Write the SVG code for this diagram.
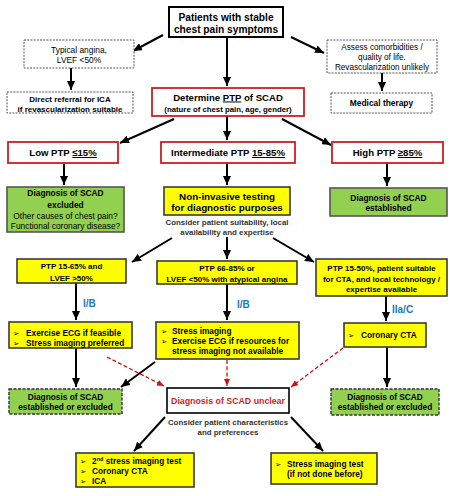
<svg xmlns="http://www.w3.org/2000/svg" width="450" height="496" viewBox="0 0 450 496">
<defs>
<marker id="ah" markerUnits="userSpaceOnUse" markerWidth="9" markerHeight="8" refX="9" refY="4" orient="auto">
<path d="M0,0 L9,4 L0,8 z" fill="#000"/>
</marker>
<marker id="rh" markerUnits="userSpaceOnUse" markerWidth="7" markerHeight="6" refX="7" refY="3" orient="auto">
<path d="M0,0 L7,3 L0,6 z" fill="#d01010"/>
</marker>
</defs>
<style>
text{font-family:"Liberation Sans",Arial,sans-serif;fill:#000}
.b{font-weight:bold}
.c{text-anchor:middle}
.bul{font-family:"DejaVu Sans",sans-serif}
.lbl{fill:#1a7ac8;font-weight:bold;font-size:10px}
.red{stroke:#cc1f1f;stroke-width:1.8;fill:#fff}
.dot{stroke:#555;stroke-width:1;stroke-dasharray:2,1.2;fill:#fff}
.yel{fill:#ffff00;stroke:#3a3a3a;stroke-width:1.6}
.grn{fill:#92d050;stroke:#555;stroke-width:1.6}
.grnd{fill:#92d050;stroke:#333;stroke-width:1.4;stroke-dasharray:3,1.5}
.arr{stroke:#000;stroke-width:2;marker-end:url(#ah)}
.rarr{stroke:#d01010;stroke-width:1.3;stroke-dasharray:4,2.2;marker-end:url(#rh)}
</style>
<g id="connectors">
<line class="arr" x1="163" y1="35" x2="133" y2="51"/>
<line class="arr" x1="291" y1="37" x2="324" y2="53"/>
<line class="arr" x1="227" y1="37" x2="227" y2="86"/>
<line class="arr" x1="71" y1="68" x2="71" y2="90"/>
<line class="arr" x1="382" y1="73" x2="382" y2="91"/>
<line class="arr" x1="174" y1="119" x2="120" y2="143"/>
<line class="arr" x1="227" y1="116" x2="227" y2="140"/>
<line class="arr" x1="282" y1="119" x2="331" y2="145"/>
<line class="arr" x1="64" y1="163" x2="64" y2="185"/>
<line class="arr" x1="227" y1="163" x2="227" y2="185"/>
<line class="arr" x1="387" y1="163" x2="387" y2="186"/>
<line class="arr" x1="172" y1="238" x2="132" y2="262"/>
<line class="arr" x1="227" y1="237" x2="227" y2="259"/>
<line class="arr" x1="273" y1="238" x2="314" y2="262"/>
<line class="arr" x1="76" y1="283" x2="76" y2="320"/>
<line class="arr" x1="227" y1="284" x2="227" y2="320"/>
<line class="arr" x1="386" y1="296" x2="386" y2="321"/>
<line class="arr" x1="76" y1="348" x2="76" y2="387"/>
<line class="arr" x1="155" y1="362" x2="121" y2="387"/>
<line class="arr" x1="387" y1="347" x2="387" y2="387"/>
<line class="arr" x1="165" y1="417" x2="134" y2="451"/>
<line class="arr" x1="291" y1="417" x2="323" y2="451"/>
<line class="rarr" x1="107" y1="357" x2="164" y2="386"/>
<line class="rarr" x1="227" y1="360" x2="227" y2="386"/>
<line class="rarr" x1="343" y1="348" x2="291" y2="387"/>
</g>
<g id="labels">
<text class="lbl" x="83" y="307">I/B</text>
<text class="lbl" x="237" y="308">I/B</text>
<text class="lbl" x="392" y="313">IIa/C</text>
</g>
<g id="n-start">
<rect x="169" y="7" width="114" height="30" fill="#fff" stroke="#000" stroke-width="2"/>
<text class="b c" x="226" y="20.5" font-size="10.2">Patients with stable</text>
<text class="b c" x="226" y="32.5" font-size="10.2">chest pain symptoms</text>
</g>
<g id="n-typical">
<rect class="dot" x="24" y="40" width="110" height="28"/>
<text class="c" x="79" y="53" font-size="8.4">Typical angina,</text>
<text class="c" x="79" y="63" font-size="8.4">LVEF  &lt;50%</text>
</g>
<g id="n-direct">
<rect class="dot" x="7" y="92" width="126" height="21"/>
<text class="b c" x="70" y="102" font-size="8">Direct referral for ICA</text>
<text class="b c" x="70" y="111.5" font-size="8">if revascularization suitable</text>
</g>
<g id="n-assess">
<rect class="dot" x="327" y="40" width="110" height="33"/>
<text class="c" x="382" y="50" font-size="8.2">Assess comorbidities /</text>
<text class="c" x="382" y="60" font-size="8.2">quality of life.</text>
<text class="c" x="382" y="70" font-size="8.2">Revascularization unlikely</text>
</g>
<g id="n-medical">
<rect class="dot" x="331" y="93" width="101" height="20"/>
<text class="b c" x="381.5" y="106" font-size="8.4">Medical therapy</text>
</g>
<g id="n-determine">
<rect class="red" x="152" y="88" width="152" height="28"/>
<text class="b c" x="228" y="100.5" font-size="9.6">Determine <tspan text-decoration="underline">PTP</tspan> of SCAD</text>
<text class="b c" x="228" y="111.5" font-size="7.8">(nature of chest pain, age, gender)</text>
</g>
<g id="n-low">
<rect class="red" x="8" y="142" width="110" height="21"/>
<text class="b c" x="63" y="156" font-size="9.6">Low PTP <tspan text-decoration="underline">≤15%</tspan></text>
</g>
<g id="n-intermediate">
<rect class="red" x="161" y="142" width="134" height="21"/>
<text class="b c" x="228" y="156" font-size="9.6">Intermediate PTP <tspan text-decoration="underline">15-85%</tspan></text>
</g>
<g id="n-high">
<rect class="red" x="332" y="142" width="111" height="21"/>
<text class="b c" x="387.5" y="156" font-size="9.6">High PTP <tspan text-decoration="underline">≥85%</tspan></text>
</g>
<g id="n-excluded">
<rect class="grn" x="7" y="187" width="117" height="45"/>
<text class="b c" x="65.5" y="196" font-size="8.4">Diagnosis of SCAD</text>
<text class="b c" x="65.5" y="208" font-size="8.4">excluded</text>
<text class="c" x="65.5" y="218.5" font-size="8.4">Other causes of chest pain?</text>
<text class="c" x="65.5" y="228.5" font-size="8.4">Functional coronary disease?</text>
</g>
<g id="n-noninvasive">
<rect class="yel" x="164" y="187" width="126" height="28"/>
<text class="b c" x="227" y="199.5" font-size="9.8">Non-invasive testing</text>
<text class="b c" x="227" y="211" font-size="9.8">for diagnostic purposes</text>
<text class="b c" x="227" y="225" font-size="7.9" style="fill:#333">Consider patient suitability, local</text>
<text class="b c" x="227" y="235" font-size="7.9" style="fill:#333">availability and expertise</text>
</g>
<g id="n-established">
<rect class="grn" x="330" y="188" width="117" height="28"/>
<text class="b c" x="388.5" y="201" font-size="8.4">Diagnosis of SCAD</text>
<text class="b c" x="388.5" y="211" font-size="8.4">established</text>
</g>
<g id="n-ptp1565">
<rect class="yel" x="17" y="259" width="109" height="24"/>
<text class="b c" x="71.5" y="269" font-size="8">PTP 15-65%  and</text>
<text class="b c" x="71.5" y="280.5" font-size="8">LVEF &gt;50%</text>
</g>
<g id="n-ptp6685">
<rect class="yel" x="157" y="261" width="140" height="23"/>
<text class="b c" x="227" y="271" font-size="8">PTP 66-85%  or</text>
<text class="b c" x="227" y="282" font-size="8">LVEF &lt;50%  with atypical angina</text>
</g>
<g id="n-ptp1550">
<rect class="yel" x="316" y="259" width="131" height="37"/>
<text class="b c" x="381.5" y="271" font-size="8">PTP 15-50%,  patient suitable</text>
<text class="b c" x="381.5" y="282" font-size="8">for CTA, and local technology /</text>
<text class="b c" x="381.5" y="292" font-size="8">expertise available</text>
</g>
<g id="n-exercise">
<rect class="yel" x="9" y="322" width="123" height="26"/>
<text class="bul" x="13" y="335.5" font-size="7.5">➢</text>
<text class="b" x="26" y="335.5" font-size="8.3">Exercise ECG if feasible</text>
<text class="bul" x="13" y="345.5" font-size="7.5">➢</text>
<text class="b" x="26" y="345.5" font-size="8.3">Stress imaging preferred</text>
</g>
<g id="n-stress">
<rect class="yel" x="156" y="322" width="143" height="37"/>
<text class="bul" x="161" y="334" font-size="7.5">➢</text>
<text class="b" x="172" y="334" font-size="8.3">Stress imaging</text>
<text class="bul" x="161" y="344" font-size="7.5">➢</text>
<text class="b" x="172" y="344" font-size="8.3">Exercise ECG if resources for</text>
<text class="b" x="172" y="354" font-size="8.3">stress imaging not available</text>
</g>
<g id="n-cta">
<rect class="yel" x="344" y="323" width="82" height="24"/>
<text class="bul" x="348" y="337.5" font-size="7.5">➢</text>
<text class="b" x="361" y="337.5" font-size="8.3">Coronary CTA</text>
</g>
<g id="n-result-left">
<rect class="grnd" x="9" y="389" width="113" height="25"/>
<text class="b c" x="65.5" y="400" font-size="8.3">Diagnosis of SCAD</text>
<text class="b c" x="65.5" y="410" font-size="8.3">established or excluded</text>
</g>
<g id="n-result-right">
<rect class="grnd" x="331" y="389" width="108" height="26"/>
<text class="b c" x="385" y="400" font-size="8.3">Diagnosis of SCAD</text>
<text class="b c" x="385" y="410" font-size="8.3">established or excluded</text>
</g>
<g id="n-unclear">
<rect x="167" y="388" width="122" height="25" fill="#fff" stroke="#000" stroke-width="1.6"/>
<text class="b c" x="228" y="404" font-size="8.8" style="fill:#cc1f1f">Diagnosis of SCAD unclear</text>
<text class="b c" x="228" y="425" font-size="7.9" style="fill:#333">Consider patient characteristics</text>
<text class="b c" x="228" y="434.5" font-size="7.9" style="fill:#333">and preferences</text>
</g>
<g id="n-second">
<rect class="yel" x="76" y="453" width="118" height="34"/>
<text class="bul" x="80" y="464" font-size="7.5">➢</text>
<text class="b" x="92" y="464" font-size="8.3">2<tspan font-size="5.5" dy="-3">nd</tspan><tspan dy="3"> stress imaging  test</tspan></text>
<text class="bul" x="80" y="474" font-size="7.5">➢</text>
<text class="b" x="92" y="474" font-size="8.3">Coronary CTA</text>
<text class="bul" x="80" y="484" font-size="7.5">➢</text>
<text class="b" x="92" y="484" font-size="8.3">ICA</text>
</g>
<g id="n-stresstest">
<rect class="yel" x="271" y="453" width="106" height="31"/>
<text class="bul" x="275" y="467" font-size="7.5">➢</text>
<text class="b" x="287" y="467" font-size="8.3">Stress imaging test</text>
<text class="b" x="287" y="477" font-size="8.3">(if not done before)</text>
</g>
</svg>
